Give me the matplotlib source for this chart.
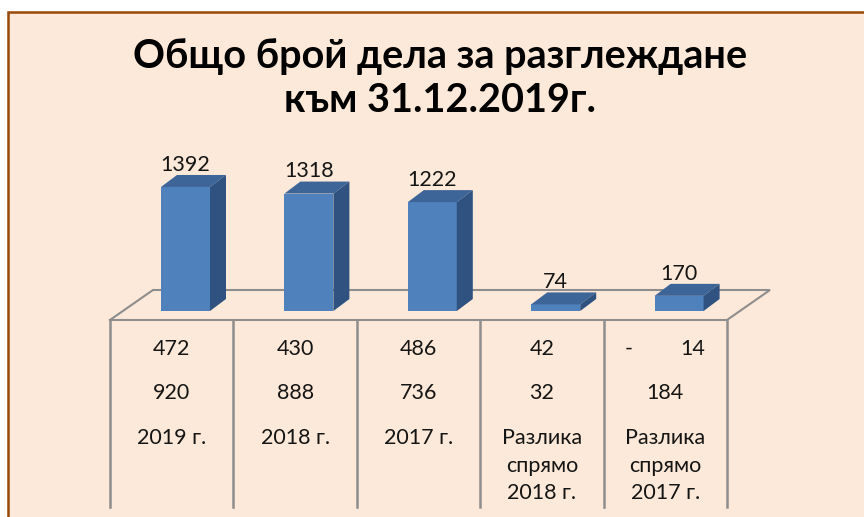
import matplotlib
matplotlib.use("Agg")
import matplotlib.pyplot as plt
from matplotlib.patches import Polygon, Rectangle
import matplotlib.transforms as mtransforms

# ---- data ----
categories = ["2019 г.", "2018 г.", "2017 г.", "Разлика\nспрямо\n2018 г.", "Разлика\nспрямо\n2017 г."]
totals = [1392, 1318, 1222, 74, 170]
row1 = [472, 430, 486, 42, -14]
row2 = [920, 888, 736, 32, 184]
title_lines = ["Общо брой дела за разглеждане", "към 31.12.2019г."]

# ---- style ----
W, H = 864, 517
BG = "#FDE9D9"
BORDER = "#984807"
GRID = "#8E8E8E"
FRONT = "#4F81BD"
TOP = "#3D6598"
SIDE = "#2F5280"
TXT = "#151515"
FONT = ["Lato", "DejaVu Sans"]
plt.rcParams["font.family"] = FONT

fig = plt.figure(figsize=(W / 100, H / 100), dpi=100)
fig.patch.set_facecolor("white")

def fy(y):
    return 1 - y / H

def fx(x):
    return x / W

# background panel with border (top + left visible)
fig.patches.append(Rectangle((fx(8), -0.1), 1.2, fy(11.5) + 0.1, transform=fig.transFigure,
                             facecolor=BG, edgecolor=BORDER, linewidth=1.8, zorder=-5))

ax = fig.add_axes([0, 0, 1, 1])
ax.set_facecolor("none")
ax.axis("off")
step = 123.4          # px per category
scale = 0.0891        # px per unit
x_first = 185.5       # px centre of first bar
base_px = 311         # px of bar base
ax.set_xlim(-x_first / step, (W - x_first) / step)
ax.set_ylim(-(H - base_px) / scale, base_px / scale)

n = len(categories)
xs = list(range(n))
bw = 49 / step
DX = 16 / step
DY = 12 / scale

trans = mtransforms.blended_transform_factory(ax.transData, fig.transFigure)

# floor
col_off = -0.612
floor_dx = 43 / step
fl, fr = col_off, col_off + n
ax.plot([fl, fr, fr + floor_dx, fl + floor_dx, fl],
        [fy(320), fy(320), fy(290), fy(290), fy(320)],
        transform=trans, color=GRID, lw=1.5, zorder=1, solid_joinstyle="miter")

# table vertical lines
for k in range(n + 1):
    ax.plot([col_off + k, col_off + k], [fy(320), fy(507)], transform=trans,
            color=GRID, lw=1.8, zorder=1)

fs = 15.5

# bars (3D look)
for x, v in zip(xs, totals):
    x0, x1 = x - bw / 2, x + bw / 2
    ax.bar(x, v, width=bw, color=FRONT, zorder=3, linewidth=0)
    ax.add_patch(Polygon([(x0, v), (x1, v), (x1 + DX, v + DY), (x0 + DX, v + DY)],
                         closed=True, facecolor=TOP, edgecolor="none", zorder=3))
    ax.add_patch(Polygon([(x1, 0), (x1, v), (x1 + DX, v + DY), (x1 + DX, DY)],
                         closed=True, facecolor=SIDE, edgecolor="none", zorder=3))
    ax.annotate(f"{v}", (x, v + DY), xytext=(0, 3), textcoords="offset points",
                ha="center", va="baseline", fontsize=fs, color=TXT, zorder=4)

# table text
for i in range(n):
    cx = i + col_off + 0.5
    for val, ypx in ((row1[i], 349), (row2[i], 393)):
        if val < 0:
            ax.text(cx - 37 / step, fy(ypx), "-", transform=trans, ha="center", va="center",
                    fontsize=fs, color=TXT)
            ax.text(cx + 40 / step, fy(ypx), f"{abs(val)}", transform=trans, ha="right",
                    va="center", fontsize=fs, color=TXT)
        else:
            ax.text(cx, fy(ypx), f"{val}", transform=trans, ha="center", va="center",
                    fontsize=fs, color=TXT)
    for j, part in enumerate(categories[i].split("\n")):
        ax.text(cx, fy(438 + 27.5 * j), part, transform=trans, ha="center", va="center",
                fontsize=fs, color=TXT)

# title
for line, ypx in zip(title_lines, (68, 112)):
    fig.text(fx(440), fy(ypx), line, ha="center", va="baseline", fontsize=28.5,
             fontweight="bold", color="black")

fig.savefig("out.png", dpi=100, facecolor=fig.get_facecolor())
